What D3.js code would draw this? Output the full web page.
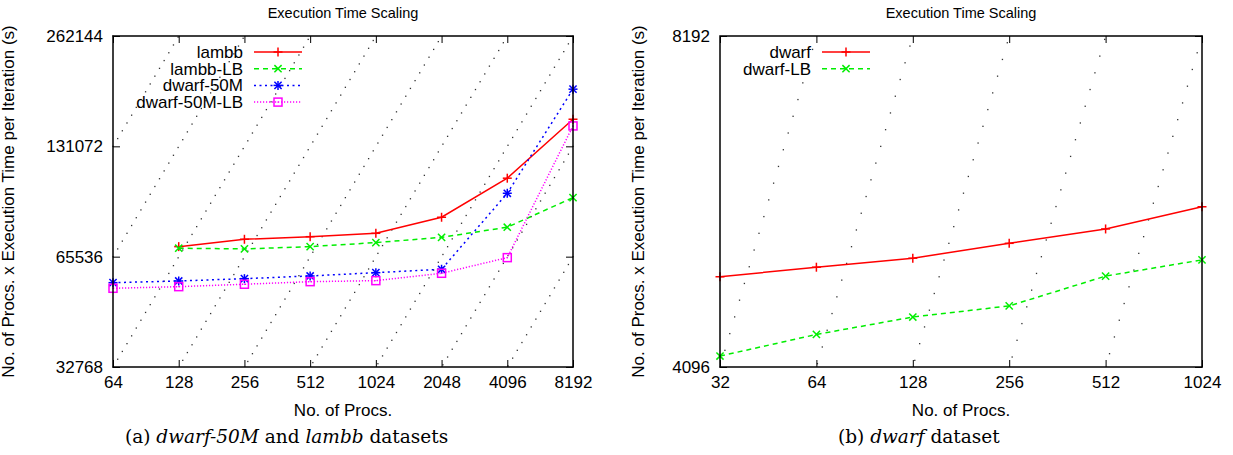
<!DOCTYPE html>
<html>
<head>
<meta charset="utf-8">
<script src="https://cdn.jsdelivr.net/npm/d3@7"></script>
<style>
body { margin: 0; background: #fff; }
svg text { font-family: "Liberation Sans", Arial, sans-serif; fill: #000; }
.caption { font-family: "DejaVu Serif", serif; }
</style>
</head>
<body>
<div id="chart"></div>
<script>
// (a) dwarf-50M and lambb
var procsA = [64, 128, 256, 512, 1024, 2048, 4096, 8192];
var lambb = [null, 69800, 73100, 74300, 75900, 83950, 107300, 155400];
var lambbLB = [null, 69100, 68800, 69800, 71600, 74000, 78850, 94950];
var dwarf50M = [55660, 56250, 57080, 58050, 59270, 60550, 97600, 187700];
var dwarf50MLB = [53730, 54280, 55110, 56010, 56370, 59040, 65140, 149000];
var yTicksA = [32768, 65536, 131072, 262144];

// (b) dwarf
var procsB = [32, 64, 128, 256, 512, 1024];
var dwarf = [4948, 5048, 5144, 5307, 5469, 5729];
var dwarfLB = [4191, 4385, 4548, 4655, 4955, 5126];
var yTicksB = [4096, 8192];

var width = 1233, height = 455;

var svg = d3.select("#chart").append("svg")
    .attr("width", width)
    .attr("height", height);

var drawMarker = function(g, type, x, y, color) {
    var s = 4.5;
    var line = function(x1, y1, x2, y2) {
        g.append("line").attr("x1", x1).attr("y1", y1).attr("x2", x2).attr("y2", y2)
            .attr("stroke", color).attr("stroke-width", 1.5);
    };
    if (type == "plus" || type == "star") {
        line(x - s, y, x + s, y);
        line(x, y - s, x, y + s);
    }
    if (type == "cross" || type == "star") {
        line(x - s * 0.8, y - s * 0.8, x + s * 0.8, y + s * 0.8);
        line(x - s * 0.8, y + s * 0.8, x + s * 0.8, y - s * 0.8);
    }
    if (type == "square") {
        g.append("rect").attr("x", x - 4).attr("y", y - 4).attr("width", 8).attr("height", 8)
            .attr("fill", "none").attr("stroke", color).attr("stroke-width", 1.5);
        g.append("rect").attr("x", x - 0.6).attr("y", y - 0.6).attr("width", 1.2).attr("height", 1.2)
            .attr("fill", color);
    }
};

var drawPanel = function(p) {
    var g = svg.append("g");

    var x = d3.scaleLog().base(2).domain(p.xDomain).range([p.left, p.right]);
    var y = d3.scaleLog().base(2).domain(p.yDomain).range([p.bottom, p.top]);

    // constant-time guide lines, sampled like gnuplot (100 samples) and drawn as dots
    var x0 = Math.log2(p.xDomain[0]), x1 = Math.log2(p.xDomain[1]);
    p.guides.forEach(function(k) {
        for (var i = 0; i < 100; i++) {
            var xv = Math.pow(2, x0 + (x1 - x0) * i / 99);
            var yv = k * xv;
            if (yv < p.yDomain[0] || yv > p.yDomain[1]) continue;
            g.append("rect")
                .attr("x", x(xv) - 0.6)
                .attr("y", y(yv) - 0.6)
                .attr("width", 1.3)
                .attr("height", 1.3)
                .attr("fill", "#333");
        }
    });

    // axes, ticks pointing inwards on all four sides
    var bottomAxis = g.append("g").attr("transform", "translate(0," + p.bottom + ")")
        .call(d3.axisBottom(x).tickValues(p.xTicks).tickFormat(d3.format("d")).tickSizeInner(-7).tickSizeOuter(0).tickPadding(9));
    var leftAxis = g.append("g").attr("transform", "translate(" + p.left + ",0)")
        .call(d3.axisLeft(y).tickValues(p.yTicks).tickFormat(d3.format("d")).tickSizeInner(-7).tickSizeOuter(0).tickPadding(10));
    var topAxis = g.append("g").attr("transform", "translate(0," + p.top + ")")
        .call(d3.axisTop(x).tickValues(p.xTicks).tickFormat("").tickSizeInner(-7).tickSizeOuter(0));
    var rightAxis = g.append("g").attr("transform", "translate(" + p.right + ",0)")
        .call(d3.axisRight(y).tickValues(p.yTicks).tickFormat("").tickSizeInner(-7).tickSizeOuter(0));

    [bottomAxis, leftAxis, topAxis, rightAxis].forEach(function(a) {
        a.select(".domain").remove();
        a.selectAll(".tick line").attr("stroke", "#000").attr("stroke-width", 1);
        a.selectAll("text").attr("font-size", "17px").attr("font-family", "Liberation Sans, Arial, sans-serif").attr("fill", "#000");
    });

    // data
    p.series.forEach(function(s) {
        var pts = [];
        for (var i = 0; i < p.xTicks.length; i++) {
            if (s.values[i] != null) pts.push([p.xTicks[i], s.values[i]]);
        }
        var line = d3.line().x(function(d) { return x(d[0]); }).y(function(d) { return y(d[1]); });
        g.append("path")
            .datum(pts)
            .attr("d", line)
            .attr("fill", "none")
            .attr("stroke", s.color)
            .attr("stroke-width", 1.5)
            .attr("stroke-dasharray", s.dash);
        pts.forEach(function(d) {
            drawMarker(g, s.marker, x(d[0]), y(d[1]), s.color);
        });
    });

    // border
    g.append("rect")
        .attr("x", p.left).attr("y", p.top)
        .attr("width", p.right - p.left).attr("height", p.bottom - p.top)
        .attr("fill", "none").attr("stroke", "#000").attr("stroke-width", 1.5);

    // legend
    p.series.forEach(function(s, i) {
        var ly = p.legendY + i * 16.7;
        g.append("text")
            .attr("x", p.legendX)
            .attr("y", ly)
            .attr("dy", "0.35em")
            .attr("text-anchor", "end")
            .attr("font-size", "17px")
            .text(s.name);
        g.append("line")
            .attr("x1", p.legendX + 11).attr("x2", p.legendX + 59)
            .attr("y1", ly).attr("y2", ly)
            .attr("stroke", s.color).attr("stroke-width", 1.5)
            .attr("stroke-dasharray", s.dash);
        drawMarker(g, s.marker, p.legendX + 35, ly, s.color);
    });

    // titles
    var cx = (p.left + p.right) / 2;
    g.append("text").attr("x", cx).attr("y", 18).attr("text-anchor", "middle")
        .attr("font-size", "14.5px").text("Execution Time Scaling");
    g.append("text").attr("x", cx).attr("y", 416).attr("text-anchor", "middle")
        .attr("font-size", "17px").text("No. of Procs.");
    g.append("text")
        .attr("transform", "translate(" + p.yLabelX + "," + ((p.top + p.bottom) / 2) + ") rotate(-90)")
        .attr("text-anchor", "middle")
        .attr("font-size", "17px")
        .text("No. of Procs. x Execution Time per Iteration (s)");

    // caption
    var cap = g.append("text").attr("class", "caption").attr("x", p.captionX).attr("y", 443)
        .attr("font-size", "18.5px").attr("font-family", "DejaVu Serif, serif");
    p.caption.forEach(function(c) {
        cap.append("tspan").attr("font-style", c.italic ? "italic" : "normal").text(c.t);
    });
};

drawPanel({
    left: 113, right: 573, top: 36, bottom: 367,
    xDomain: [64, 8192], yDomain: [32768, 262144],
    xTicks: procsA, yTicks: yTicksA,
    guides: [4, 8, 16, 32, 64, 128, 256, 512, 1024, 2048, 4096],
    series: [
        {name: "lambb", values: lambb, color: "#ff0000", dash: null, marker: "plus"},
        {name: "lambb-LB", values: lambbLB, color: "#00ee00", dash: "5,4", marker: "cross"},
        {name: "dwarf-50M", values: dwarf50M, color: "#0000ff", dash: "2,3.5", marker: "star"},
        {name: "dwarf-50M-LB", values: dwarf50MLB, color: "#ff00ff", dash: "1.2,1.8", marker: "square"}
    ],
    legendX: 243, legendY: 52,
    yLabelX: 14,
    captionX: 125,
    caption: [{t: "(a)  "}, {t: "dwarf-50M", italic: true}, {t: " and "}, {t: "lambb", italic: true}, {t: " datasets"}]
});

drawPanel({
    left: 720, right: 1202, top: 36, bottom: 367,
    xDomain: [32, 1024], yDomain: [4096, 8192],
    xTicks: procsB, yTicks: yTicksB,
    guides: [4, 8, 16, 32, 64, 128],
    series: [
        {name: "dwarf", values: dwarf, color: "#ff0000", dash: null, marker: "plus"},
        {name: "dwarf-LB", values: dwarfLB, color: "#00ee00", dash: "5,4", marker: "cross"}
    ],
    legendX: 811, legendY: 52,
    yLabelX: 644,
    captionX: 838,
    caption: [{t: "(b)  "}, {t: "dwarf", italic: true}, {t: " dataset"}]
});
</script>
</body>
</html>
